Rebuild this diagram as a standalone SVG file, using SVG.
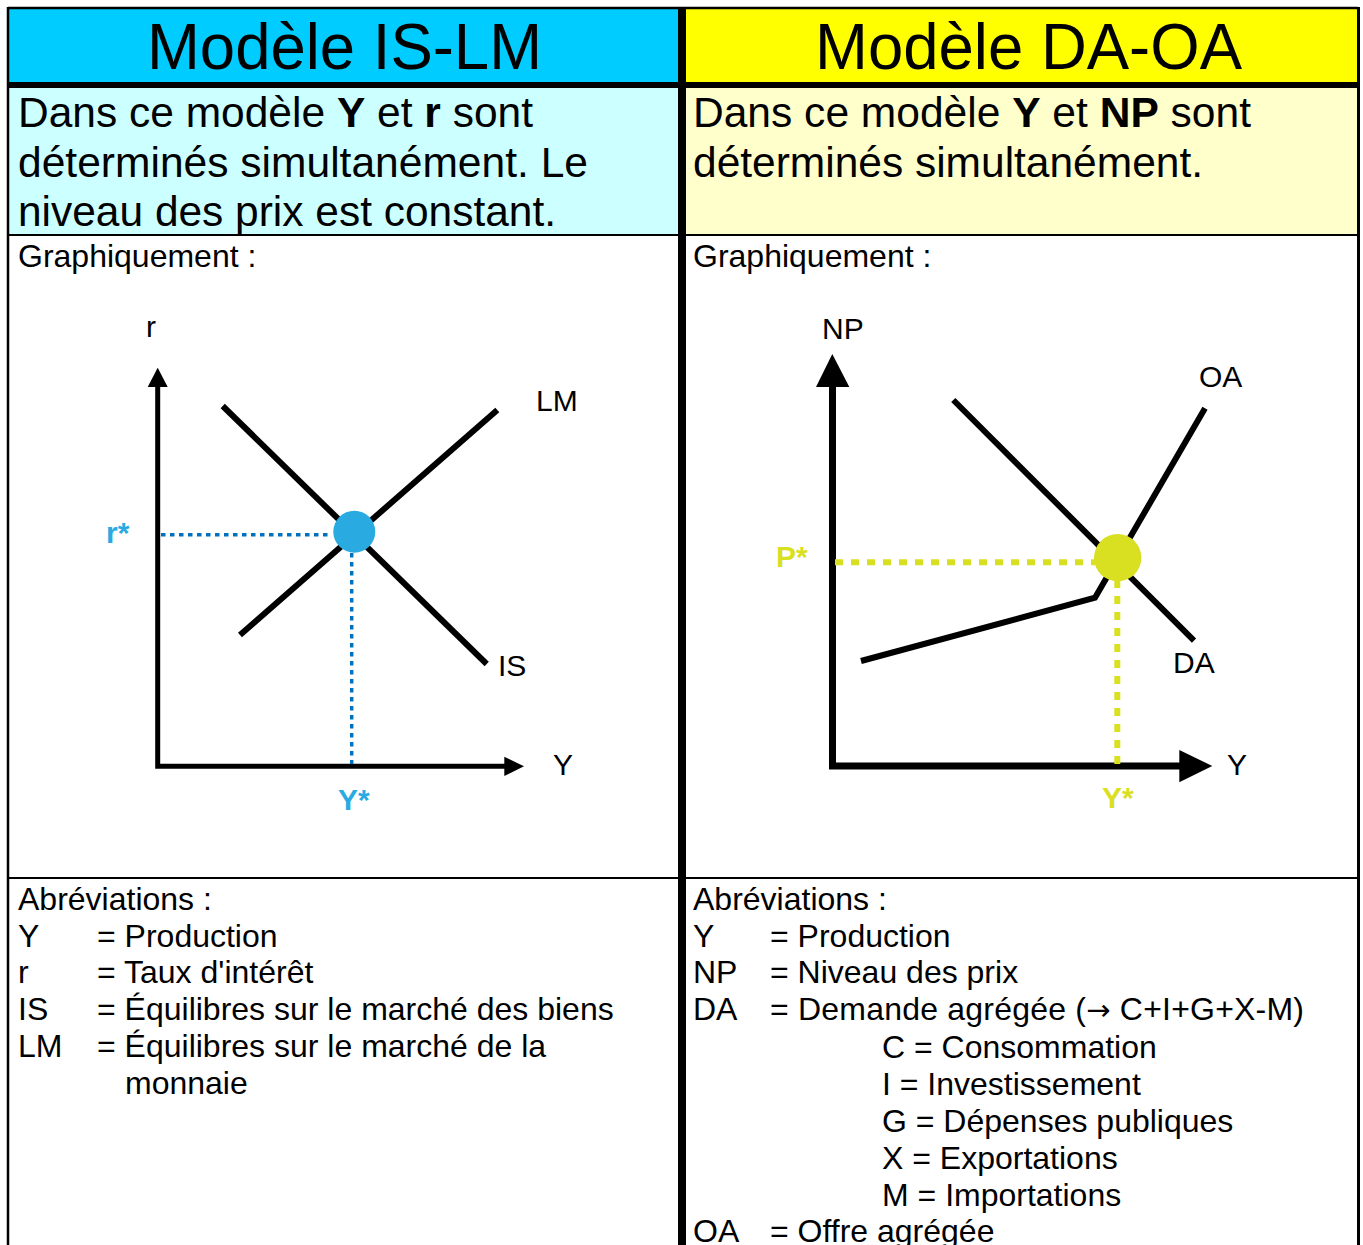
<svg xmlns="http://www.w3.org/2000/svg" width="1363" height="1245" viewBox="0 0 1363 1245">
<style>
text{font-family:"Liberation Sans",Arial,sans-serif;fill:#000}
.title{font-size:65px}
.desc{font-size:42px}
.body{font-size:32px}
.lbl{font-size:30px}
.b{font-weight:bold}
.arr{font-family:"DejaVu Sans",sans-serif;font-size:29px}
.frame{stroke:#000;fill:none}
.curve{stroke:#000;stroke-width:6;fill:none}
.axisL{stroke:#000;stroke-width:5;fill:none}
.axisR{stroke:#000;stroke-width:7;fill:none}
.blue{fill:#29ABE2}
.yel{fill:#D9E021}
.dotB{stroke:#0071BC;stroke-width:3.5;stroke-dasharray:4.5 4.5;fill:none}
.dotY{stroke:#D9E021;stroke-width:6;stroke-dasharray:8 8;fill:none}
</style>
<rect width="1363" height="1245" fill="#fff"/>
<g id="header-islm">
<rect x="8" y="8" width="674" height="77" fill="#00CCFF"/>
<text class="title" x="147" y="69" textLength="395" lengthAdjust="spacingAndGlyphs">Modèle IS-LM</text>
</g>
<g id="header-daoa">
<rect x="682" y="8" width="676" height="77" fill="#FFFF00"/>
<text class="title" x="815" y="69" textLength="427" lengthAdjust="spacingAndGlyphs">Modèle DA-OA</text>
</g>
<g id="desc-islm">
<rect x="8" y="85" width="674" height="150" fill="#CCFFFF"/>
<text class="desc" x="18" y="127" textLength="515" lengthAdjust="spacingAndGlyphs">Dans ce modèle <tspan class="b">Y</tspan> et <tspan class="b">r</tspan> sont</text>
<text class="desc" x="18" y="177" textLength="570" lengthAdjust="spacingAndGlyphs">déterminés simultanément. Le</text>
<text class="desc" x="18" y="226" textLength="538" lengthAdjust="spacingAndGlyphs">niveau des prix est constant.</text>
</g>
<g id="desc-daoa">
<rect x="682" y="85" width="676" height="150" fill="#FFFFCC"/>
<text class="desc" x="693" y="127" textLength="558" lengthAdjust="spacingAndGlyphs">Dans ce modèle <tspan class="b">Y</tspan> et <tspan class="b">NP</tspan> sont</text>
<text class="desc" x="693" y="177" textLength="510" lengthAdjust="spacingAndGlyphs">déterminés simultanément.</text>
</g>
<g id="frame">
<line class="frame" x1="8" y1="8" x2="1358" y2="8" stroke-width="2.5"/>
<line class="frame" x1="8" y1="7" x2="8" y2="1245" stroke-width="2.5"/>
<line class="frame" x1="1358.5" y1="7" x2="1358.5" y2="1245" stroke-width="3"/>
<line class="frame" x1="8" y1="85" x2="1358" y2="85" stroke-width="6"/>
<line class="frame" x1="8" y1="235" x2="1358" y2="235" stroke-width="2"/>
<line class="frame" x1="8" y1="878" x2="1358" y2="878" stroke-width="2"/>
<line class="frame" x1="682" y1="7" x2="682" y2="1245" stroke-width="8"/>
</g>
<g id="graph-islm">
<text class="body" x="18" y="267">Graphiquement :</text>
<polyline class="axisL" points="157.7,385 157.7,766.3 506,766.3"/>
<polygon points="157.7,367.7 147.7,387 167.7,387"/>
<polygon points="524,766.3 504.3,756.7 504.3,776"/>
<line class="curve" x1="240" y1="635" x2="497.3" y2="410"/>
<line class="curve" x1="222.7" y1="406" x2="486.7" y2="664"/>
<text class="lbl" x="146" y="337">r</text>
<text class="lbl" x="536" y="411">LM</text>
<text class="lbl" x="498" y="676">IS</text>
<text class="lbl" x="553" y="775">Y</text>
<text class="lbl b blue" x="106" y="543">r*</text>
<text class="lbl b blue" x="338" y="810">Y*</text>
</g>
<g id="graph-daoa">
<text class="body" x="693" y="267">Graphiquement :</text>
<polyline class="axisR" points="832.5,380 832.5,766 1185,766"/>
<polygon points="832.3,354 816,387 849.3,387"/>
<polygon points="1212.3,766 1179.3,750 1179.3,782.3"/>
<line class="curve" x1="953.3" y1="400" x2="1194" y2="640.7"/>
<polyline class="curve" points="861,661 1095,597.7 1205,408.3"/>
<text class="lbl" x="822" y="339">NP</text>
<text class="lbl" x="1199" y="387">OA</text>
<text class="lbl" x="1173" y="673">DA</text>
<text class="lbl" x="1227" y="775">Y</text>
<text class="lbl b yel" x="776" y="567">P*</text>
<text class="lbl b yel" x="1102" y="808">Y*</text>
</g>
<g id="connectors">
<line class="dotB" x1="161" y1="534.7" x2="332" y2="534.7"/>
<line class="dotB" x1="351.7" y1="553" x2="351.7" y2="764"/>
<line class="dotY" x1="835" y1="562.3" x2="1095" y2="562.3"/>
<line class="dotY" x1="1117.3" y1="580" x2="1117.3" y2="764"/>
</g>
<g id="points">
<circle class="blue" cx="354.3" cy="531.7" r="21"/>
<circle class="yel" cx="1117.7" cy="557.7" r="23.7"/>
</g>
<g id="abbrev-islm">
<text class="body" x="18" y="910">Abréviations :</text>
<text class="body" x="18" y="946.7">Y</text><text class="body" x="97" y="946.7">= Production</text>
<text class="body" x="18" y="983.4">r</text><text class="body" x="97" y="983.4">= Taux d'intérêt</text>
<text class="body" x="18" y="1020">IS</text><text class="body" x="97" y="1020">= Équilibres sur le marché des biens</text>
<text class="body" x="18" y="1056.8">LM</text><text class="body" x="97" y="1056.8">= Équilibres sur le marché de la</text>
<text class="body" x="125" y="1093.5">monnaie</text>
</g>
<g id="abbrev-daoa">
<text class="body" x="693" y="910">Abréviations :</text>
<text class="body" x="693" y="946.7">Y</text><text class="body" x="770" y="946.7">= Production</text>
<text class="body" x="693" y="983.4">NP</text><text class="body" x="770" y="983.4">= Niveau des prix</text>
<text class="body" x="693" y="1020">DA</text><text class="body" x="770" y="1020" textLength="534" lengthAdjust="spacing">= Demande agrégée (<tspan class="arr">→</tspan> C+I+G+X-M)</text>
<text class="body" x="882" y="1058">C = Consommation</text>
<text class="body" x="882" y="1095">I = Investissement</text>
<text class="body" x="882" y="1132">G = Dépenses publiques</text>
<text class="body" x="882" y="1169">X = Exportations</text>
<text class="body" x="882" y="1205.5">M = Importations</text>
<text class="body" x="693" y="1241.5">OA</text><text class="body" x="770" y="1241.5">= Offre agrégée</text>
</g>
</svg>
